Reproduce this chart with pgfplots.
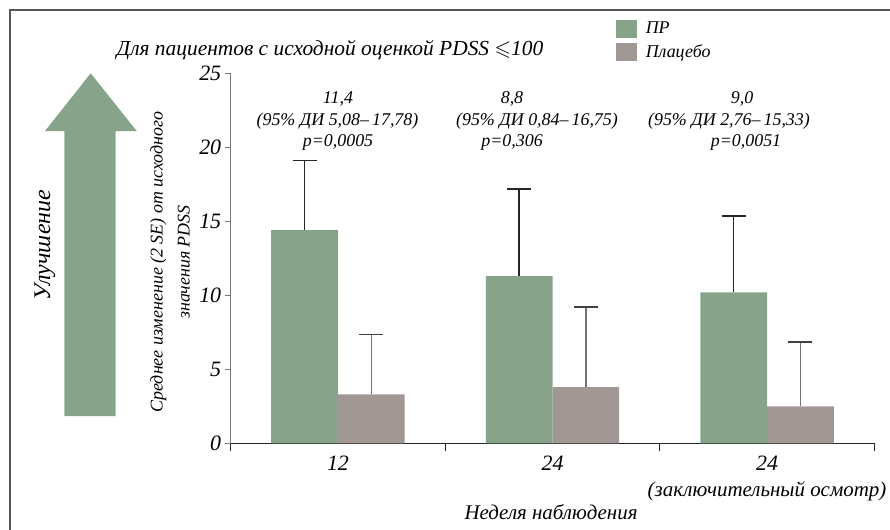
\documentclass[border=0pt]{standalone}
\usepackage{amssymb}
\usepackage{pgfplots}
\pgfplotsset{compat=1.18}
\usepackage{pgfplotstable}
\usepackage{fontspec}
\setmainfont{Liberation Serif}
\definecolor{prgreen}{RGB}{135,164,138}
\definecolor{plgray}{RGB}{161,151,149}
\definecolor{framegray}{RGB}{85,85,85}
\definecolor{axgray}{RGB}{120,120,120}
\newcommand{\fs}[1]{\fontsize{#1}{#1}\selectfont}
\pgfplotstableread{
x y e
0 14.4 4.7
1 11.3 5.9
2 10.2 5.15
}\prdata
\pgfplotstableread{
x y e
0 3.3 4.05
1 3.8 5.4
2 2.5 4.35
}\pldata
\begin{document}
\begin{tikzpicture}
\useasboundingbox (0bp,0bp) rectangle (890bp,-530bp);
\draw[framegray, line width=1.3bp] (10bp,-10bp) rectangle (905bp,-545bp);
% improvement arrow
\fill[prgreen] (64.3bp,-416bp) -- (64.3bp,-131bp) -- (45bp,-131bp) -- (90.7bp,-73.3bp)
  -- (136.7bp,-131bp) -- (115.7bp,-131bp) -- (115.7bp,-416bp) -- cycle;
\node[rotate=90, font=\itshape\fs{24}] at (45bp,-245bp) {Улучшение};
\node[rotate=90, align=center, font=\itshape\fontsize{18}{27}\selectfont] at (170bp,-262bp)
  {Среднее изменение (2 SE) от исходного\\значения PDSS};
\node[font=\itshape\fs{21.5}] at (330bp,-50bp) {Для пациентов с исходной оценкой PDSS $\leqslant$100};
\begin{axis}[
  at={(230.7bp,-443.3bp)}, anchor=south west,
  scale only axis, width=643.6bp, height=370bp,
  xmin=-0.5, xmax=2.5, ymin=0, ymax=25,
  axis x line*=bottom, axis y line*=left,
  x axis line style={black!85, line width=1.4bp},
  y axis line style={axgray, line width=1.4bp},
  ybar=0pt, bar width=0.311,
  xtick={0,1,2},
  xticklabels={12,24,{24\\{\fs{21}(заключительный осмотр)}}},
  minor xtick={-0.5,0.5,1.5,2.5},
  ytick={0,5,10,15,20,25},
  tick align=outside,
  major x tick style={draw=none},
  minor x tick style={black!85, line width=1.2bp},
  y tick style={axgray, line width=1.2bp},
  major tick length=6bp, minor tick length=8bp,
  /pgf/number format/assume math mode=true,
  ticklabel style={font=\itshape\fs{22}},
  xticklabel style={align=center, font=\itshape\fontsize{22}{26}\selectfont, yshift=-3bp},
  clip=false,
  legend style={at={(0.598,1.145)}, anchor=north west, draw=none, fill=none,
    font=\itshape\fs{18}, row sep=5bp, inner sep=0pt,
    /tikz/every odd column/.style={column sep=7bp}},
  legend cell align=left,
  legend image code/.code={\fill[#1,draw=none] (0bp,-9bp) rectangle (21bp,9bp);},
]
\addplot[fill=prgreen, draw=none,
  error bars/.cd, y dir=plus, y explicit,
  error bar style={black!85, line width=1.4bp},
  error mark options={rotate=90, black!85, mark size=12bp, line width=1.6bp}]
  table[x=x, y=y, y error=e] {\prdata};
\addplot[fill=plgray, draw=none,
  error bars/.cd, y dir=plus, y explicit,
  error bar style={black!55, line width=1.3bp},
  error mark options={rotate=90, black!75, mark size=12bp, line width=1.6bp}]
  table[x=x, y=y, y error=e] {\pldata};
\legend{ПР, Плацебо}
\end{axis}
\begin{scope}[font=\itshape\fs{18}]
\node at (338bp,-99bp) {11,4};
\node at (337.5bp,-121bp) {(95\% ДИ 5,08–\,17,78)};
\node at (338bp,-142bp) {p=0,0005};
\node at (512bp,-99bp) {8,8};
\node at (537bp,-121bp) {(95\% ДИ 0,84–\,16,75)};
\node at (512bp,-142bp) {p=0,306};
\node at (742bp,-99bp) {9,0};
\node at (729bp,-121bp) {(95\% ДИ 2,76–\,15,33)};
\node at (746bp,-142bp) {p=0,0051};
\end{scope}
\node[font=\itshape\fs{21}] at (551bp,-512bp) {Неделя наблюдения};
\end{tikzpicture}
\end{document}
